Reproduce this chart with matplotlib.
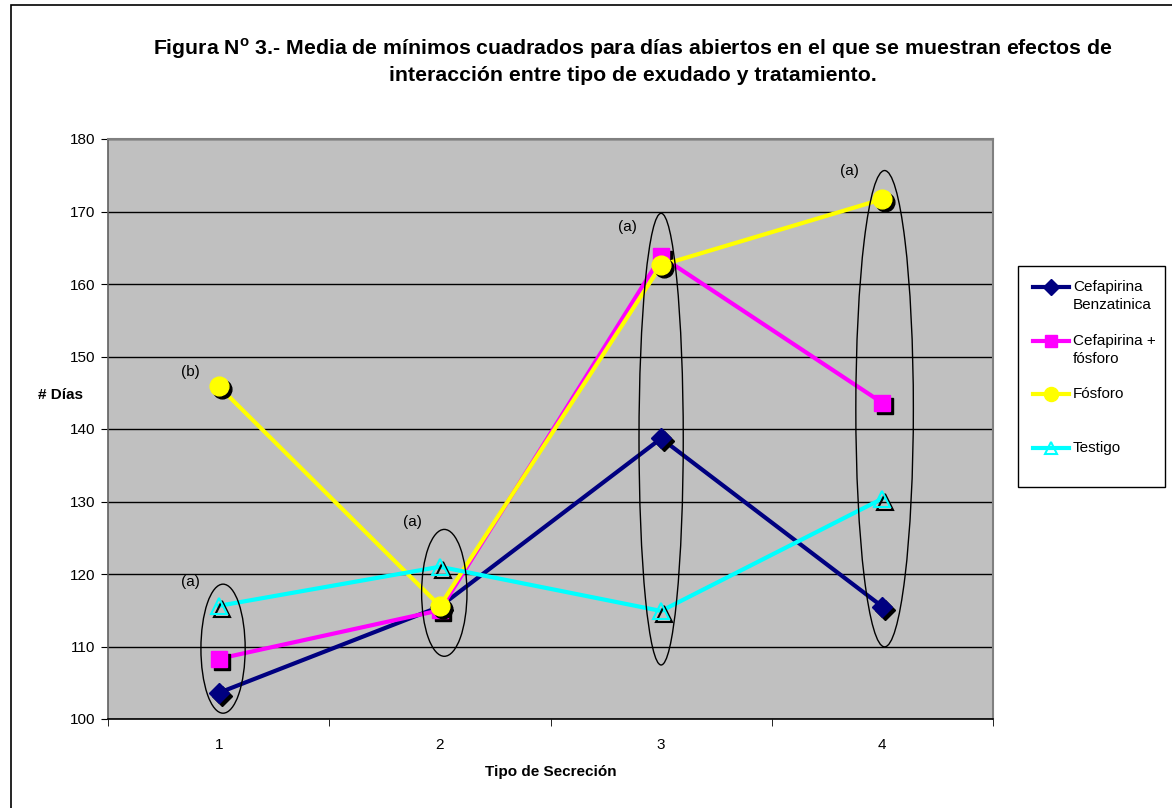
import matplotlib
matplotlib.use("Agg")
import matplotlib.pyplot as plt
import matplotlib.transforms as mtransforms
from matplotlib.patches import Ellipse, Rectangle
from matplotlib.lines import Line2D

plt.rcParams['font.family'] = ['Liberation Sans', 'DejaVu Sans']

categories = [1, 2, 3, 4]
cefapirina_benz = [103.6, 115.5, 138.7, 115.5]
cefapirina_fosforo = [108.3, 115.0, 163.8, 143.6]
fosforo = [145.9, 115.6, 162.6, 171.7]
testigo = [115.6, 121.0, 114.9, 130.4]
series_names = ["Cefapirina\nBenzatinica", "Cefapirina +\nfósforo", "Fósforo", "Testigo"]

# ellipses: (center x, center y, width, height)
ellipse_cx = [1.02, 2.02, 3.0, 4.01]
ellipse_cy = [109.7, 117.4, 138.6, 142.8]
ellipse_w = [0.20, 0.205, 0.20, 0.26]
ellipse_h = [17.8, 17.5, 62.3, 65.7]

ann_labels = ["(b)", "(a)", "(a)", "(a)", "(a)"]
ann_x = [0.871, 0.871, 1.874, 2.846, 3.849]
ann_y = [147.9, 118.9, 127.2, 167.9, 175.6]

title = ("Figura N$^{\\mathregular{o}}$ 3.- Media de mínimos cuadrados para días abiertos en el que se muestran efectos de\n"
         "interacción entre tipo de exudado y tratamiento.")

fig = plt.figure(figsize=(11.72, 8.08), dpi=100)
W, H = 1172, 808
ax = fig.add_axes([108 / W, 1 - 719 / H, (993 - 108) / W, (719 - 139) / H])
ax.set_facecolor('#C0C0C0')

# figure border
fig.patches.append(Rectangle((11 / W, -0.01), (1180 - 11) / W, 1 - 5 / H + 0.01,
                             transform=fig.transFigure, fill=False, edgecolor='black',
                             lw=1.2, zorder=0))

ax.set_xlim(0.5, 4.5)
ax.set_ylim(100, 180)
ax.set_yticks(range(100, 181, 10))
ax.yaxis.grid(True, color='black', lw=1.0)
ax.set_axisbelow(True)
ax.set_xticks(categories)
ax.set_xticks([0.5, 1.5, 2.5, 3.5, 4.5], minor=True)
ax.tick_params(axis='x', which='major', length=0, labelsize=11, pad=14)
ax.tick_params(axis='x', which='minor', length=5, direction='out', color='black')
ax.tick_params(axis='y', which='major', length=5, direction='out', labelsize=11, pad=4)

for s in ['top', 'right']:
    ax.spines[s].set_color('#808080')
    ax.spines[s].set_linewidth(1.5)
ax.spines['left'].set_color('#606060')
ax.spines['left'].set_linewidth(1.2)
ax.spines['bottom'].set_color('black')
ax.spines['bottom'].set_linewidth(1.2)

shadow = mtransforms.offset_copy(ax.transData, fig=fig, x=3, y=-3, units='dots')

styles = [
    (cefapirina_benz, '#000080', 'D', 10.5, True),
    (cefapirina_fosforo, '#FF00FF', 's', 11.5, True),
    (fosforo, '#FFFF00', 'o', 13.5, True),
    (testigo, '#00FFFF', '^', 11.5, False),
]

z = 3
for vals, col, mk, ms, filled in styles:
    ax.plot(categories, vals, color=col, lw=3, zorder=z)
    if filled:
        ax.plot(categories, vals, ls='none', marker=mk, ms=ms, mfc='black', mec='black',
                transform=shadow, zorder=z + 0.1)
        ax.plot(categories, vals, ls='none', marker=mk, ms=ms, mfc=col, mec=col, zorder=z + 0.2)
    else:
        ax.plot(categories, vals, ls='none', marker=mk, ms=ms, mfc='none', mec='black',
                mew=1.5, transform=shadow, zorder=z + 0.1)
        ax.plot(categories, vals, ls='none', marker=mk, ms=ms, mfc='none', mec=col,
                mew=1.5, zorder=z + 0.2)
    z += 1

for cx, cy, w, h in zip(ellipse_cx, ellipse_cy, ellipse_w, ellipse_h):
    ax.add_patch(Ellipse((cx, cy), w, h, fill=False, edgecolor='black', lw=1.0, zorder=10))

for t, x, y in zip(ann_labels, ann_x, ann_y):
    ax.text(x, y, t, fontsize=11, ha='center', va='center', zorder=11)

ax.set_xlabel("Tipo de Secreción", fontsize=11, fontweight='bold', labelpad=9)
fig.text(60 / W, 1 - 395 / H, "# Días", fontsize=11, fontweight='bold', ha='center', va='center')

fig.text(633 / W, 1 - 61 / H, title, fontsize=15.3, fontweight='bold', ha='center', va='center',
         linespacing=1.32)

# legend
fig.patches.append(Rectangle((1018 / W, 1 - 487 / H), (1165 - 1018) / W, (487 - 266) / H,
                             transform=fig.transFigure, fill=True, facecolor='white',
                             edgecolor='black', lw=1.0))
leg_y = [287, 341, 394, 448]
leg_text_y = [296, 350, 394, 448]
for (vals, col, mk, ms, filled), name, ly, ty in zip(styles, series_names, leg_y, leg_text_y):
    yf = 1 - ly / H
    fig.add_artist(Line2D([1033 / W, 1069 / W], [yf, yf], color=col, lw=3,
                          transform=fig.transFigure))
    if filled:
        fig.add_artist(Line2D([1051 / W], [yf], marker=mk, ms=ms * 0.75, mfc=col, mec=col,
                              ls='none', transform=fig.transFigure))
    else:
        fig.add_artist(Line2D([1051 / W], [yf], marker=mk, ms=ms * 0.75, mfc='none', mec=col,
                              mew=1.5, ls='none', transform=fig.transFigure))
    fig.text(1073 / W, 1 - ty / H, name, fontsize=11, ha='left', va='center', linespacing=1.45)

fig.savefig("out.png", dpi=100)
